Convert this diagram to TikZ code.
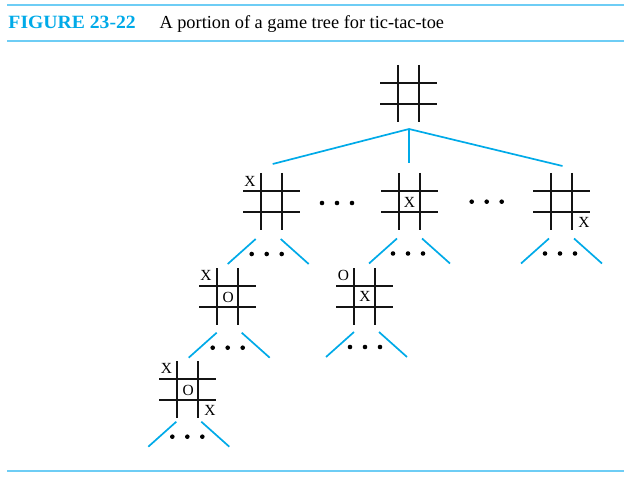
\documentclass[tikz,border=0pt]{standalone}
\usepackage{fontspec}
\setmainfont{Liberation Serif}
\usetikzlibrary{calc}
\definecolor{tcyan}{RGB}{0,170,232}
\definecolor{rulecyan}{RGB}{110,205,245}
\tikzset{
  boardline/.style={line width=1.8bp, black!92},
  board/.style={minimum width=57bp, minimum height=57bp, inner sep=0pt, outer sep=0pt,
    path picture={
      \draw[boardline] ([xshift=-10.5bp]path picture bounding box.north) -- ([xshift=-10.5bp]path picture bounding box.south);
      \draw[boardline] ([xshift=10.5bp]path picture bounding box.north) -- ([xshift=10.5bp]path picture bounding box.south);
      \draw[boardline] ([yshift=-10.5bp]path picture bounding box.west) -- ([yshift=-10.5bp]path picture bounding box.east);
      \draw[boardline] ([yshift=10.5bp]path picture bounding box.west) -- ([yshift=10.5bp]path picture bounding box.east);
    }},
  branch/.style={tcyan, line width=1.7bp},
  rulestyle/.style={rulecyan, line width=1.7bp},
  cellmark/.style={font=\fontsize{15.5}{15.5}\selectfont, inner sep=0pt},
  dotfill/.style={fill=black},
}
\newcommand{\threedots}[1]{%
  \fill[dotfill] ($(#1)+(-15,0)$) circle (2.3bp);
  \fill[dotfill] (#1) circle (2.3bp);
  \fill[dotfill] ($(#1)+(15,0)$) circle (2.3bp);}
\newcommand{\fan}[1]{%
  \threedots{#1}
  \draw[branch] ($(#1)+(-11,-15)$) -- ($(#1)+(-39,10)$);
  \draw[branch] ($(#1)+(14,-15)$) -- ($(#1)+(42,10)$);}
\begin{document}
\begin{tikzpicture}[x=1bp,y=-1bp]
\useasboundingbox (0,0) rectangle (624,478);
% header rules
\coordinate (rA) at (7,5);   \coordinate (rB) at (624,5);
\coordinate (rC) at (7,40.7); \coordinate (rD) at (624,40.7);
\coordinate (rE) at (7,471); \coordinate (rF) at (624,471);
\draw[rulestyle] (rA) -- (rB);
\draw[rulestyle] (rC) -- (rD);
\draw[rulestyle] (rE) -- (rF);
% title
\node[anchor=base west, inner sep=0pt, text=tcyan, font=\fontsize{18.8}{20}\selectfont\bfseries] (fig) at (8.3,28.3) {\scalebox{1.05}[1]{FIGURE 23-22}};
\node[anchor=base west, inner sep=0pt, font=\fontsize{18.4}{20}\selectfont] (cap) at (159.3,28.3) {A portion of a game tree for tic-tac-toe};
% boards
\node[board] (root) at (408.5,93.5) {};
\node[board] (b1) at (271.5,201.5) {};
\node[board] (b2) at (409.5,201.5) {};
\node[board] (b3) at (561.5,201.5) {};
\node[board] (b21) at (227.5,296.5) {};
\node[board] (b22) at (364.5,296.5) {};
\node[board] (b31) at (187.5,389.5) {};
% marks
\node[cellmark] (x1) at ($(b1.center)+(-21.5,-20.5)$) {X};
\node[cellmark] (x2) at ($(b2.center)+(0,1)$) {X};
\node[cellmark] (x3) at ($(b3.center)+(22.5,20.5)$) {X};
\node[cellmark] (x21) at ($(b21.center)+(-21.5,-21)$) {X};
\node[cellmark] (o21) at ($(b21.center)+(0.8,1.2)$) {O};
\node[cellmark] (o22) at ($(b22.center)+(-21,-21)$) {O};
\node[cellmark] (x22) at ($(b22.center)+(0.5,0.3)$) {X};
\node[cellmark] (x31) at ($(b31.center)+(-21,-21)$) {X};
\node[cellmark] (o31) at ($(b31.center)+(0.8,0.6)$) {O};
\node[cellmark] (x32) at ($(b31.center)+(22.5,21)$) {X};
% root connectors
\coordinate (rj) at (409,129);
\draw[branch] (rj) -- ([xshift=1.2bp,yshift=9bp]b1.north);
\draw[branch] (rj) -- ([xshift=-0.5bp,yshift=10bp]b2.north);
\draw[branch] (rj) -- ([xshift=1bp,yshift=7bp]b3.north);
% inline dots
\coordinate (m1) at (337,203);
\coordinate (m2) at (486.7,201.7);
\threedots{m1}
\threedots{m2}
% fans
\coordinate (d1) at (266.7,254);
\coordinate (d2) at (408,253.5);
\coordinate (d3) at (560,253.5);
\coordinate (d21) at (227.7,347.7);
\coordinate (d22) at (365,347);
\coordinate (d31) at (187.3,436.7);
\fan{d1}
\fan{d2}
\fan{d3}
\fan{d21}
\fan{d22}
\fan{d31}
\end{tikzpicture}
\end{document}
